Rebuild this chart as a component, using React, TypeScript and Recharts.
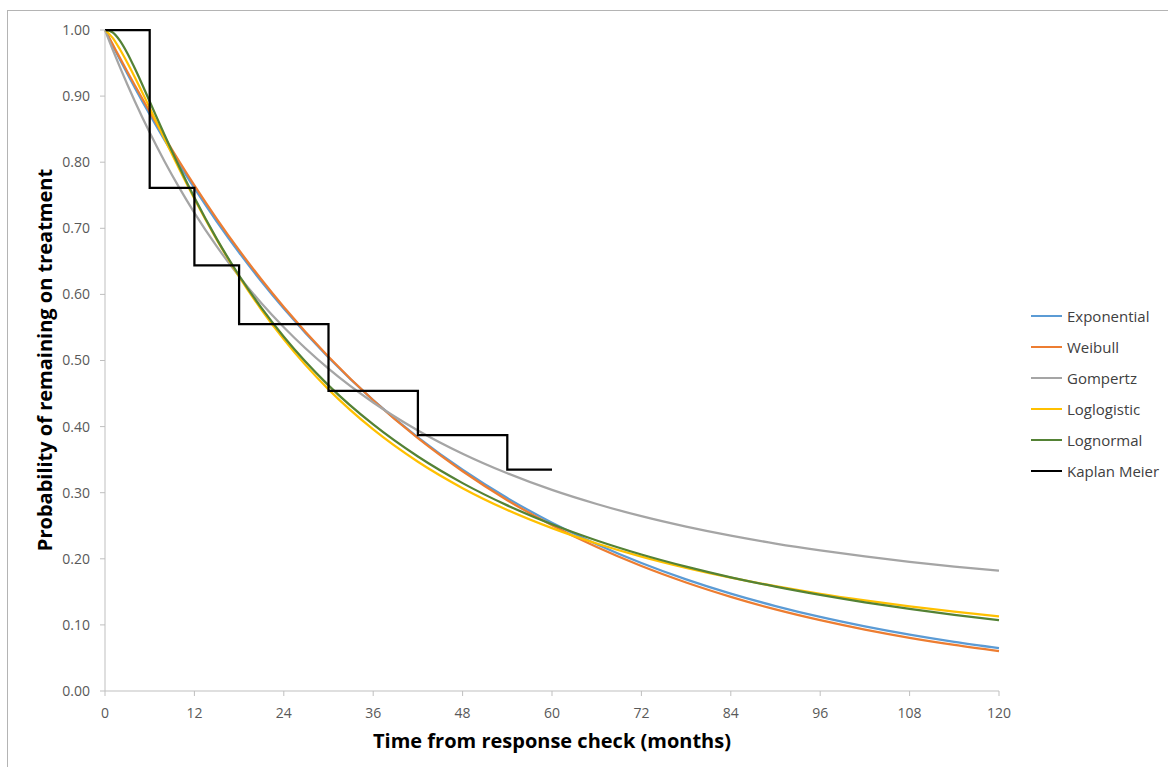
import React from 'react';
import { LineChart, Line, XAxis, YAxis, Legend } from 'recharts';

const months = [0, 1, 2, 3, 4, 6, 8, 10, 12, 15, 18, 21, 24, 30, 36, 42, 48, 54, 60, 66, 72, 78, 84, 90, 96, 102, 108, 114, 120];

const exponential = [1, 0.9775, 0.9554, 0.9339, 0.9128, 0.8721, 0.8333, 0.7961, 0.7606, 0.7103, 0.6634, 0.6195, 0.5786, 0.5046, 0.4401, 0.3838, 0.3347, 0.2919, 0.2546, 0.2221, 0.1937, 0.1689, 0.1473, 0.1285, 0.1120, 0.0977, 0.0852, 0.0743, 0.0648];
const weibull = [1, 0.9790, 0.9578, 0.9369, 0.9164, 0.8763, 0.8377, 0.8006, 0.7650, 0.7144, 0.6669, 0.6225, 0.5809, 0.5056, 0.4398, 0.3824, 0.3324, 0.2887, 0.2508, 0.2177, 0.1890, 0.1641, 0.1424, 0.1234, 0.1071, 0.0929, 0.0805, 0.0698, 0.0605];
const gompertz = [1, 0.9713, 0.9438, 0.9175, 0.8923, 0.8448, 0.8011, 0.7607, 0.7234, 0.6726, 0.6273, 0.5867, 0.5503, 0.4877, 0.4365, 0.3942, 0.3590, 0.3294, 0.3042, 0.2829, 0.2645, 0.2487, 0.2350, 0.2231, 0.2127, 0.2035, 0.1955, 0.1883, 0.1820];
const loglogistic = [1, 0.9885, 0.9709, 0.9505, 0.9286, 0.8822, 0.8351, 0.7889, 0.7447, 0.6829, 0.6270, 0.5768, 0.5320, 0.4563, 0.3957, 0.3468, 0.3069, 0.2739, 0.2464, 0.2231, 0.2032, 0.1862, 0.1714, 0.1585, 0.1471, 0.1371, 0.1281, 0.1201, 0.1130];
const lognormal = [1, 0.9967, 0.9840, 0.9649, 0.9420, 0.8919, 0.8411, 0.7923, 0.7465, 0.6840, 0.6286, 0.5795, 0.5359, 0.4624, 0.4032, 0.3547, 0.3145, 0.2808, 0.2522, 0.2277, 0.2065, 0.1881, 0.1720, 0.1579, 0.1454, 0.1342, 0.1243, 0.1153, 0.1073];

const kmMonths = [0, 6, 12, 18, 30, 42, 54, 60];
const kmValues = [1, 0.761, 0.644, 0.555, 0.454, 0.387, 0.335, 0.335];

const xTicks = [0, 12, 24, 36, 48, 60, 72, 84, 96, 108, 120];
const yTicks = [0, 0.1, 0.2, 0.3, 0.4, 0.5, 0.6, 0.7, 0.8, 0.9, 1];

const seriesNames = ['Exponential', 'Weibull', 'Gompertz', 'Loglogistic', 'Lognormal', 'Kaplan Meier'];
const seriesColors = ['#5B9BD5', '#ED7D31', '#A5A5A5', '#FFC000', '#548235', '#000000'];

const rows = months.map((m, i) => {
  const k = kmMonths.indexOf(m);
  return {
    m,
    exp: exponential[i],
    wei: weibull[i],
    gom: gompertz[i],
    llog: loglogistic[i],
    lnorm: lognormal[i],
    km: k >= 0 ? kmValues[k] : null,
  };
});

const keys = ['exp', 'wei', 'gom', 'llog', 'lnorm', 'km'];

const FONT = '"Open Sans", "Noto Sans", sans-serif';

const renderLegend = () => (
  <div style={{ fontFamily: FONT, fontSize: 15, color: '#404040' }}>
    {seriesNames.map((name, i) => (
      <div key={name} style={{ display: 'flex', alignItems: 'center', height: 31, whiteSpace: 'nowrap' }}>
        <span style={{ display: 'inline-block', width: 31, height: 0, borderTop: `2.25px solid ${seriesColors[i]}`, marginRight: 5 }} />
        <span>{name}</span>
      </div>
    ))}
  </div>
);

const YTitle = () => (
  <text x={52} y={360} transform="rotate(-90 52 360)" textAnchor="middle" fontFamily={FONT} fontWeight={700} fontSize={20} fill="#000">
    Probability of remaining on treatment
  </text>
);

const XTitle = () => (
  <text x={552} y={748} textAnchor="middle" fontFamily={FONT} fontWeight={700} fontSize={20} fill="#000">
    Time from response check (months)
  </text>
);

export default function App() {
  return (
    <div style={{ position: 'fixed', left: 0, top: 0, width: 1168, height: 767, overflow: 'hidden', background: '#fff' }}>
      <div style={{ position: 'absolute', left: 7, top: 10, width: 1300, height: 900, border: '1px solid #b4b4b4' }} />
      <div style={{ position: 'absolute', left: 0, top: 0 }}>
        <LineChart width={1168} height={767} data={rows} margin={{ top: 30, right: 169, bottom: 46, left: 0 }} style={{ fontFamily: FONT }}>
          <XAxis
            dataKey="m"
            type="number"
            domain={[0, 120]}
            ticks={xTicks}
            height={30}
            tickSize={5}
            tickMargin={12}
            axisLine={{ stroke: '#bfbfbf' }}
            tickLine={{ stroke: '#bfbfbf' }}
            tick={{ fontSize: 14, fill: '#595959', fontFamily: FONT }}
            interval={0}
            label={<XTitle />}
          />
          <YAxis
            type="number"
            domain={[0, 1]}
            ticks={yTicks}
            width={105}
            tickSize={5}
            tickMargin={10}
            axisLine={{ stroke: '#bfbfbf' }}
            tickLine={{ stroke: '#bfbfbf' }}
            tick={{ fontSize: 14, fill: '#595959', fontFamily: FONT }}
            tickFormatter={(v: number) => v.toFixed(2)}
            interval={0}
            label={<YTitle />}
          />
          <Legend
            layout="vertical"
            align="center"
            verticalAlign="middle"
            wrapperStyle={{ left: 1031, top: 300, width: 137 }}
            content={renderLegend}
          />
          {keys.map((k, i) => (
            <Line
              key={k}
              dataKey={k}
              name={seriesNames[i]}
              stroke={seriesColors[i]}
              strokeWidth={2.25}
              type={k === 'km' ? 'stepAfter' : 'monotone'}
              dot={false}
              activeDot={false}
              connectNulls={k === 'km'}
              isAnimationActive={false}
            />
          ))}
        </LineChart>
      </div>
    </div>
  );
}
